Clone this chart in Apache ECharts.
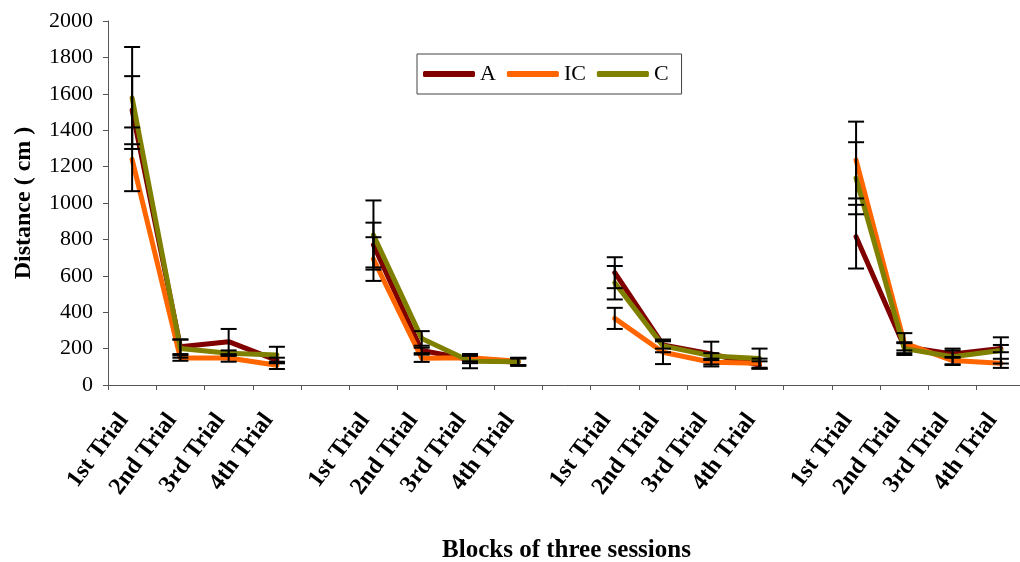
<!DOCTYPE html>
<html>
<head>
<meta charset="utf-8">
<script src="https://cdn.jsdelivr.net/npm/echarts@6/dist/echarts.min.js"></script>
<style>
  html, body { margin: 0; padding: 0; background: #fff; }
  #chart { width: 1020px; height: 562px; }
</style>
</head>
<body>
<div id="chart"></div>
<script>
// four blocks of four trials, one empty slot between blocks
const trials = ['1st Trial', '2nd Trial', '3rd Trial', '4th Trial']
const categories = [].concat(trials, [''], trials, [''], trials, [''], trials)

const seriesNames = ['A', 'IC', 'C']
const colors = ['#800000', '#FF6600', '#808000']

const valuesA = [1510, 210, 238, 135, null, 769, 190, 140, 125, null, 617, 220, 170, 110, null, 815, 210, 170, 200]
const valuesIC = [1240, 148, 148, 108, null, 692, 147, 150, 130, null, 366, 180, 125, 120, null, 1236, 230, 134, 119]
const valuesC = [1577, 200, 175, 165, null, 824, 256, 130, 128, null, 562, 215, 160, 145, null, 1136, 200, 155, 190]

// half length of each error bar
const errA = [187, 40, 70, 15, null, 123, 15, 20, 20, null, 85, 20, 68, 20, null, 175, 20, 20, 20]
const errIC = [175, 15, 20, 20, null, 120, 20, 20, 20, null, 58, 65, 12, 25, null, 211, 55, 20, 25]
const errC = [280, 50, 15, 45, null, 190, 40, 38, 20, null, 92, 35, 15, 55, null, 198, 35, 45, 72]

const allValues = [valuesA, valuesIC, valuesC]
const allErrors = [errA, errIC, errC]

const font = 'Liberation Serif, Times New Roman, serif'

function errorData (values, errs) {
  const out = []
  values.forEach((v, i) => {
    if (v == null || errs[i] == null) return
    out.push([i, v - errs[i], v + errs[i]])
  })
  return out
}

function renderError (params, api) {
  const x = api.value(0)
  const lo = api.coord([x, api.value(1)])
  const hi = api.coord([x, api.value(2)])
  const half = 8
  const style = { stroke: '#000', lineWidth: 2 }
  return {
    type: 'group',
    children: [
      { type: 'line', shape: { x1: lo[0], y1: lo[1], x2: hi[0], y2: hi[1] }, style: style },
      { type: 'line', shape: { x1: lo[0] - half, y1: lo[1], x2: lo[0] + half, y2: lo[1] }, style: style },
      { type: 'line', shape: { x1: hi[0] - half, y1: hi[1], x2: hi[0] + half, y2: hi[1] }, style: style }
    ]
  }
}

const series = []
seriesNames.forEach((name, k) => {
  series.push({
    name: name,
    type: 'line',
    data: allValues[k],
    showSymbol: false,
    symbol: 'none',
    connectNulls: false,
    color: colors[k],
    lineStyle: { width: 5, color: colors[k], cap: 'round', join: 'round' },
    z: 2 + k
  })
})
seriesNames.forEach((name, k) => {
  series.push({
    type: 'custom',
    renderItem: renderError,
    data: errorData(allValues[k], allErrors[k]),
    encode: { x: 0, y: [1, 2] },
    z: 10
  })
})

const chart = echarts.init(document.getElementById('chart'))
chart.setOption({
  animation: false,
  backgroundColor: '#fff',
  textStyle: { fontFamily: font },
  grid: { left: 108, right: -5, top: 21, bottom: 177, outerBoundsMode: 'none', containLabel: false },
  legend: {
    data: seriesNames,
    left: 417,
    top: 54,
    padding: [9, 13, 9, 6],
    itemGap: 11,
    itemWidth: 52,
    itemHeight: 6,
    icon: 'roundRect',
    borderColor: '#444',
    borderWidth: 1,
    textStyle: { fontFamily: font, fontSize: 22, color: '#000' }
  },
  xAxis: {
    type: 'category',
    data: categories,
    boundaryGap: true,
    name: 'Blocks of three sessions',
    nameLocation: 'middle',
    nameGap: 153,
    nameTextStyle: { fontFamily: font, fontSize: 25, fontWeight: 'bold', color: '#000' },
    axisLine: { lineStyle: { color: '#555', width: 1 } },
    axisTick: { show: true, length: 5, inside: false, lineStyle: { color: '#555' } },
    axisLabel: {
      interval: 0,
      rotate: 53,
      margin: 20,
      padding: [0, 14, 0, 0],
      fontFamily: font,
      fontSize: 24,
      fontWeight: 'bold',
      color: '#000'
    },
    splitLine: { show: false }
  },
  yAxis: {
    type: 'value',
    min: 0,
    max: 2000,
    interval: 200,
    name: 'Distance ( cm )',
    nameLocation: 'middle',
    nameGap: 72,
    nameRotate: 90,
    nameTextStyle: { fontFamily: font, fontSize: 24, fontWeight: 'bold', color: '#000' },
    axisLine: { show: true, lineStyle: { color: '#555', width: 1 } },
    axisTick: { show: true, length: 5, lineStyle: { color: '#555' } },
    axisLabel: {
      fontFamily: font,
      fontSize: 22,
      color: '#000',
      margin: 15,
      formatter: (v) => String(v)
    },
    splitLine: { show: false }
  },
  series: series
})
</script>
</body>
</html>
